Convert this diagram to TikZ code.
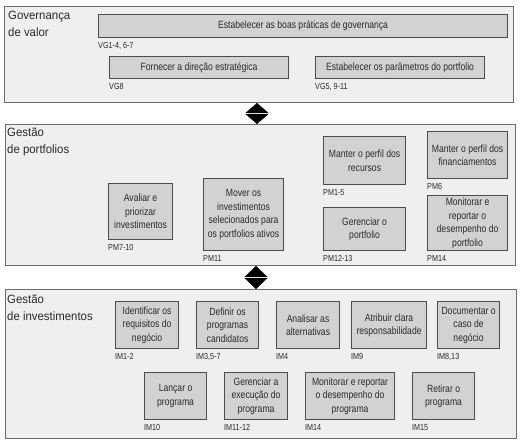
\documentclass[tikz,border=0pt]{standalone}
\usepackage{fontspec}
\setmainfont{Liberation Sans}
\newfontfamily\narrowfont{Liberation Sans}[FakeStretch=0.82]
\newfontfamily\titlefont{Liberation Sans}[FakeStretch=0.95]
\usetikzlibrary{arrows.meta}
\definecolor{panelfill}{HTML}{EFEFEF}
\definecolor{panelline}{HTML}{6E6E6E}
\definecolor{boxfill}{HTML}{D2D2D2}
\definecolor{boxline}{HTML}{4C4C4C}
\definecolor{txt}{HTML}{2A2A2A}
\tikzset{
  panel/.style={draw=panelline, fill=panelfill, line width=1pt, anchor=north west, inner sep=0pt},
  procbox/.style={draw=boxline, fill=boxfill, line width=1.1pt, anchor=north west, inner sep=1pt,
    align=center, text=txt, font=\narrowfont\fontsize{10.5}{13.5}\selectfont},
  reflabel/.style={anchor=north west, inner sep=0pt, text=txt, font=\narrowfont\fontsize{8.8}{9}\selectfont},
  paneltitle/.style={anchor=north west, inner sep=0pt, align=left, text=txt, font=\titlefont\fontsize{12}{17}\selectfont},
  linkarrow/.style={white, line width=0.3pt,
    {Triangle[length=#1,width=23pt,color=black]}-{Triangle[length=#1,width=23pt,color=black]}}
}
\newcommand{\pbox}[6]{% name, x1, y1, x2, y2, text
  \node[procbox, minimum width=#4pt-#2pt, minimum height=#5pt-#3pt] (#1) at (#2,#3) {#6};}
\newcommand{\plabel}[2]{\node[reflabel] (#1lab) at ([yshift=-4.5pt]#1.south west) {#2};}
\begin{document}
\begin{tikzpicture}[x=1pt,y=-1pt]
\useasboundingbox[fill=white] (0,0) rectangle (520,440);
% panels
\node[panel, minimum width=509pt, minimum height=96pt] (p1) at (4,6) {};
\node[panel, minimum width=510pt, minimum height=141pt] (p2) at (5,124) {};
\node[panel, minimum width=511pt, minimum height=149pt] (p3) at (5,289) {};
% titles
\node[paneltitle] (t1) at (8,11) {Governança\\de valor};
\node[paneltitle] (t2) at (7,128) {Gestão\\de portfolios};
\node[paneltitle] (t3) at (7,295) {Gestão\\de investimentos};
% panel 1
\pbox{vga}{98}{14}{507}{37}{Estabelecer as boas práticas de governança}
\plabel{vga}{VG1-4, 6-7}
\pbox{vgb}{109}{56}{288}{78}{Fornecer a direção estratégica}
\plabel{vgb}{VG8}
\pbox{vgc}{315}{56}{484}{78}{Estabelecer os parâmetros do portfolio}
\plabel{vgc}{VG5, 9-11}
% panel 2
\pbox{pma}{108}{183}{172}{239}{Avaliar e\\priorizar\\investimentos}
\plabel{pma}{PM7-10}
\pbox{pmb}{203}{178}{283}{250}{Mover os\\investimentos\\selecionados para\\os portfolios ativos}
\plabel{pmb}{PM11}
\pbox{pmc}{323}{136}{405}{184}{Manter o perfil dos\\recursos}
\plabel{pmc}{PM1-5}
\pbox{pmd}{323}{207}{405}{250}{Gerenciar o\\portfolio}
\plabel{pmd}{PM12-13}
\pbox{pme}{427}{131}{507}{178}{Manter o perfil dos\\financiamentos}
\plabel{pme}{PM6}
\pbox{pmf}{427}{195}{507}{250}{Monitorar e\\reportar o\\desempenho do\\portfolio}
\plabel{pmf}{PM14}
% panel 3
\pbox{ima}{115}{301}{178}{348}{Identificar os\\requisitos do\\negócio}
\plabel{ima}{IM1-2}
\pbox{imb}{196}{301}{258}{348}{Definir os\\programas\\candidatos}
\plabel{imb}{IM3,5-7}
\pbox{imc}{276}{301}{339}{348}{Analisar as\\alternativas}
\plabel{imc}{IM4}
\pbox{imd}{351}{301}{426}{348}{Atribuir clara\\responsabilidade}
\plabel{imd}{IM9}
\pbox{ime}{437}{301}{499}{348}{Documentar o\\caso de\\negócio}
\plabel{ime}{IM8,13}
\pbox{imf}{144}{372}{206}{419}{Lançar o\\programa}
\plabel{imf}{IM10}
\pbox{img}{224}{372}{287}{419}{Gerenciar a\\execução do\\programa}
\plabel{img}{IM11-12}
\pbox{imh}{305}{372}{394}{419}{Monitorar e reportar\\o desempenho do\\programa}
\plabel{imh}{IM14}
\pbox{imi}{412}{372}{474}{419}{Retirar o\\programa}
\plabel{imi}{IM15}
% connectors
\coordinate (c1) at (257,0);
\coordinate (c2) at (256,0);
\draw[linkarrow=10pt] (p1.south -| c1) -- (p2.north -| c1);
\draw[linkarrow=11pt] (p2.south -| c2) -- (p3.north -| c2);
\end{tikzpicture}
\end{document}
